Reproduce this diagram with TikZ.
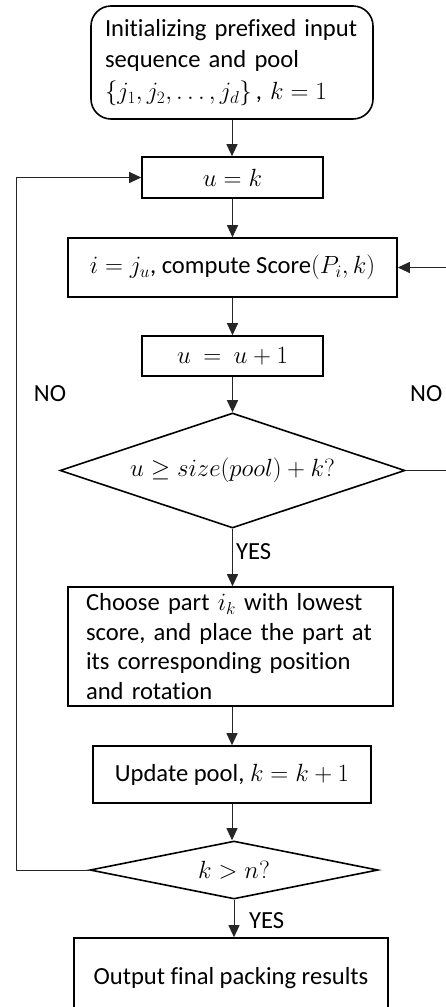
\documentclass[tikz,border=0pt]{standalone}
\usepackage{fontspec}
\setmainfont{Carlito}[Ligatures=NoCommon]
\usetikzlibrary{arrows.meta,shapes.geometric}
\newcommand\flowfont{\fontsize{24.6}{29.7}\selectfont}

\begin{document}
\begin{tikzpicture}[x=1pt,y=-1pt,
  box/.style={draw=black, line width=1.6pt, rectangle, inner sep=0pt, font=\flowfont},
  startbox/.style={box, rounded corners=20pt},
  decision/.style={draw=black, line width=1.6pt, diamond, inner sep=0pt, font=\flowfont},
  conn/.style={draw=black!85, line width=1pt, -{Triangle[length=12pt,width=11pt]}},
  lbl/.style={font=\flowfont, inner sep=0pt}
]
\useasboundingbox (0,0) rectangle (446,1007);
\clip (0,0) rectangle (446,1007);

% process steps
\node[startbox, minimum width=282, minimum height=113, align=left,
      text width=254, inner xsep=14pt, font=\fontsize{24.6}{31.5}\selectfont] (start) at (232,62.5)
  {Initializing prefixed input\\sequence and pool\\$\{j_1,j_2,\ldots,j_d\}$\,, $k=1$};
\node[box, minimum width=181, minimum height=41] (uk) at (232.5,177.5) {$u=k$};
\node[box, minimum width=329, minimum height=59] (comp) at (232.5,267.5)
  {$i=j_u$, compute Score$(P_i,k)$};
\node[box, minimum width=181, minimum height=40] (uu) at (232.5,356) {$u\ =\ u+1$};
\node[decision, aspect=3, minimum width=345, minimum height=115] (d1) at (232.5,470.5)
  {$u\geq size(pool)+k?$};
\node[box, minimum width=325, minimum height=119, align=left,
      text width=289, inner xsep=18pt] (choose) at (230.5,646.5)
  {Choose part $i_k$ with lowest\\score, and place the part at\\its corresponding position\\and rotation};
\node[box, minimum width=278, minimum height=57] (upd) at (232,774.5) {Update pool, $k=k+1$};
\node[decision, aspect=5, minimum width=288, minimum height=58] (d2) at (234,870)
  {$k>n?$};
\node[box, minimum width=314, minimum height=80] (out) at (231,978)
  {Output final packing results};

% loop corners
\coordinate (lc) at (16,177.5);
\coordinate (rc) at (452,470.5);

% connectors
\draw[conn] (start.south) -- (start.south |- uk.north);
\draw[conn] (uk) -- (comp);
\draw[conn] (comp) -- (uu);
\draw[conn] (uu) -- (d1);
\draw[conn] (d1) -- (choose.north -| d1.south);
\draw[conn] (choose.south -| upd.north) -- (upd);
\draw[conn] (upd) -- (d2.north -| upd.south);
\draw[conn] (d2.south) -- (out.north -| d2.south);
\draw[conn] (d2.west) -| (lc) -- (uk.west);
\draw[conn] (d1.east) -- (rc) |- (comp.east);

% branch labels
\node[lbl, anchor=west] (yes1) at (236,552) {YES};
\node[lbl, anchor=west] (yes2) at (249,921) {YES};
\node[lbl] (no1) at (50,394) {NO};
\node[lbl, anchor=west] (no2) at (410,394) {NO};
\end{tikzpicture}
\end{document}
